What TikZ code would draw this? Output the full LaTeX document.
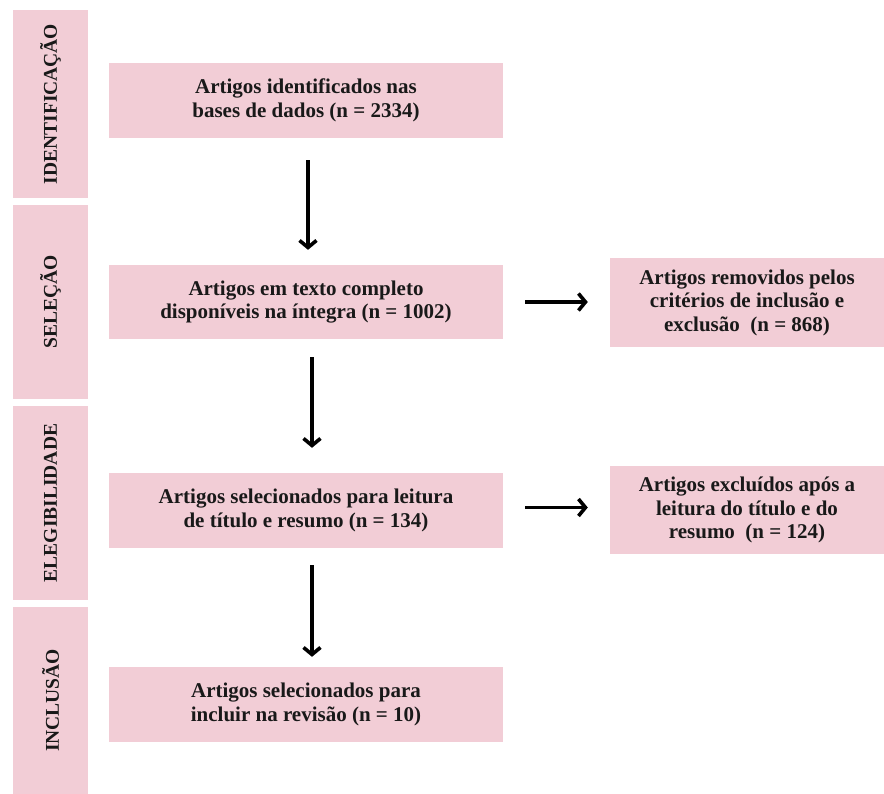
\documentclass[tikz,border=0pt]{standalone}
\usepackage{fontspec}
\setmainfont{Liberation Serif}
\usetikzlibrary{arrows.meta}
\definecolor{boxpink}{RGB}{242,205,214}
\tikzset{
  box/.style={rectangle, fill=boxpink, inner sep=0pt, align=center,
    font=\bfseries\fontsize{21}{23.5}\selectfont, text=black!90},
  mainbox/.style={box, minimum width=394pt, minimum height=75pt},
  stagebox/.style={box, rotate=90, font=\bfseries\fontsize{19.5}{22}\selectfont},
  arr/.style={line width=3.6pt, -{Straight Barb[length=7pt,width=17pt,line width=3.6pt]}}
}
\begin{document}
\begin{tikzpicture}[x=1pt,y=-1pt]
\useasboundingbox (0,0) rectangle (884,794);
% stage labels
\node[stagebox, minimum height=75pt, minimum width=188pt] (s1) at (50.5,104) {IDENTIFICAÇÃO};
\node[stagebox, minimum height=75pt, minimum width=194pt] (s2) at (50.5,302) {SELEÇÃO};
\node[stagebox, minimum height=75pt, minimum width=194pt] (s3) at (50.5,503) {ELEGIBILIDADE};
\node[stagebox, minimum height=75pt, minimum width=187pt] (s4) at (50.5,700.5) {INCLUSÃO};
% main boxes
\node[mainbox] (b1) at (306,100.5) {Artigos identificados nas\\bases de dados (n = 2334)};
\node[mainbox, minimum height=74pt] (b2) at (306,302) {Artigos em texto completo\\disponíveis na íntegra (n = 1002)};
\node[mainbox] (b3) at (306,510.5) {Artigos selecionados para leitura\\de título e resumo (n = 134)};
\node[mainbox] (b4) at (306,704.5) {Artigos selecionados para\\incluir na revisão (n = 10)};
% side boxes
\node[box, minimum width=274pt, minimum height=89pt] (r1) at (747,302.5) {Artigos removidos pelos\\critérios de inclusão e\\exclusão\ \ (n = 868)};
\node[box, minimum width=274pt, minimum height=88pt] (r2) at (747,510) {Artigos excluídos após a\\leitura do título e do\\resumo\ \ (n = 124)};
% arrows
\draw[arr] ([xshift=2pt,yshift=-22pt]b1.south) -- ([xshift=2pt,yshift=15pt]b2.north);
\draw[arr] ([xshift=6pt,yshift=-18pt]b2.south) -- ([xshift=6pt,yshift=25pt]b3.north);
\draw[arr] ([xshift=6pt,yshift=-17pt]b3.south) -- ([xshift=6pt,yshift=10pt]b4.north);
\draw[arr] ([xshift=22pt]b2.east) -- ([xshift=-22pt]r1.west |- b2.east);
\draw[arr] ([xshift=22pt,yshift=3pt]b3.east) -- ([xshift=-22pt,yshift=3pt]r2.west |- b3.east);
\end{tikzpicture}
\end{document}
